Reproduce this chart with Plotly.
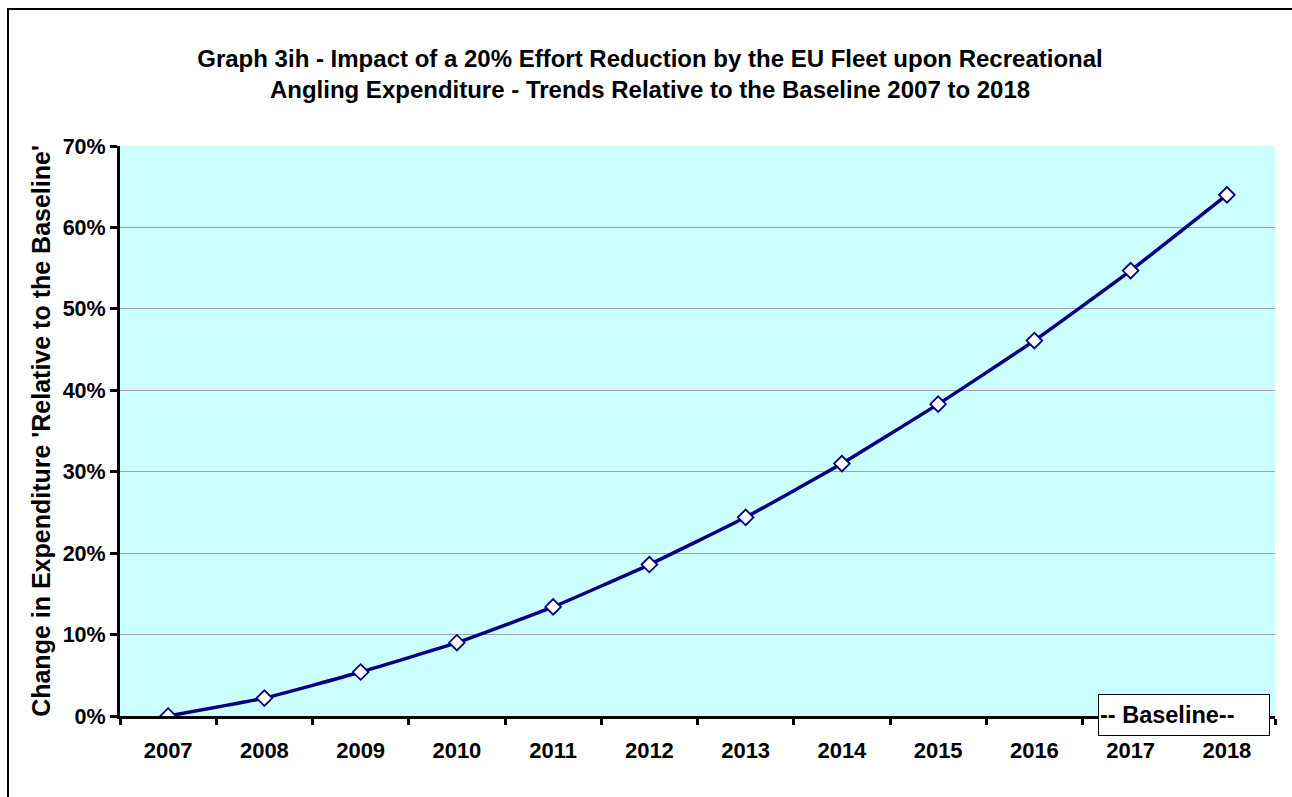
import plotly.graph_objects as go

years = ["2007", "2008", "2009", "2010", "2011", "2012", "2013", "2014", "2015", "2016", "2017", "2018"]
change = [0.0, 0.022, 0.054, 0.090, 0.134, 0.186, 0.244, 0.310, 0.383, 0.461, 0.547, 0.640]
series_name = "-- Baseline--"
title_lines = ["Graph 3ih - Impact of a 20% Effort Reduction by the EU Fleet upon Recreational",
               "Angling Expenditure - Trends Relative to the Baseline 2007 to 2018"]
y_title = "Change in Expenditure 'Relative to the Baseline'"

FONT = "Liberation Sans, Arial, sans-serif"

fig = go.Figure()
fig.add_trace(go.Scatter(
    x=years, y=change, mode="lines+markers", name=series_name,
    line=dict(color="#000080", width=3.5, shape="spline", smoothing=0.4),
    marker=dict(symbol="diamond", size=12, color="white",
                line=dict(color="#000080", width=1.8)),
    showlegend=False,
))

L, R, T, B = 120, 17, 146, 81
W, H = 1292, 797
pw, ph = W - L - R, H - T - B

def px_to_paper_x(x):
    return (x - L) / pw

def px_to_paper_y(y):
    return (H - B - y) / ph

fig.update_layout(
    width=W, height=H,
    margin=dict(l=L, r=R, t=T, b=B),
    paper_bgcolor="white",
    plot_bgcolor="#CCFFFF",
    font=dict(family=FONT, color="black"),
    title=dict(text="<b>" + title_lines[0] + "<br>" + title_lines[1] + "</b>",
               x=px_to_paper_x(650), xref="paper", xanchor="center",
               y=1 - 67 / H, yanchor="middle", yref="container",
               font=dict(size=24, family=FONT)),
    xaxis=dict(
        type="category", range=[-0.5, 11.5],
        showline=True, linecolor="black", linewidth=3,
        ticks="outside", tickson="boundaries", ticklen=6, tickwidth=3, tickcolor="black",
        tickfont=dict(size=22, family=FONT),
        showgrid=False, zeroline=False,
        ticklabelstandoff=13,
    ),
    yaxis=dict(
        range=[0, 0.7], dtick=0.1, tickformat=".0%",
        showline=True, linecolor="black", linewidth=3,
        ticks="outside", ticklen=7, tickwidth=3, tickcolor="black",
        tickfont=dict(size=21.5, family=FONT),
        showgrid=True, gridcolor="#A0A0A0", gridwidth=1,
        zeroline=False,
        title=dict(text="<b>" + y_title + "</b>", font=dict(size=25, family=FONT), standoff=5),
    ),
    shapes=[dict(type="rect", xref="paper", yref="paper",
                 x0=px_to_paper_x(8), x1=px_to_paper_x(1400),
                 y0=px_to_paper_y(900), y1=px_to_paper_y(9),
                 line=dict(color="black", width=2), fillcolor="rgba(0,0,0,0)", layer="above")],
    annotations=[dict(
        text="<b>" + series_name + "</b>", xref="paper", yref="paper",
        x=px_to_paper_x(1184), y=px_to_paper_y(715), xanchor="center", yanchor="middle",
        showarrow=False, align="left", width=168, height=38, borderpad=1,
        bordercolor="black", borderwidth=1, bgcolor="white",
        font=dict(size=23.5, family=FONT, color="black"),
    )],
)
fig.update_xaxes(tickprefix="<b>", ticksuffix="</b>")
fig.update_yaxes(tickprefix="<b>", ticksuffix="</b>")

fig.write_html("out.html")
